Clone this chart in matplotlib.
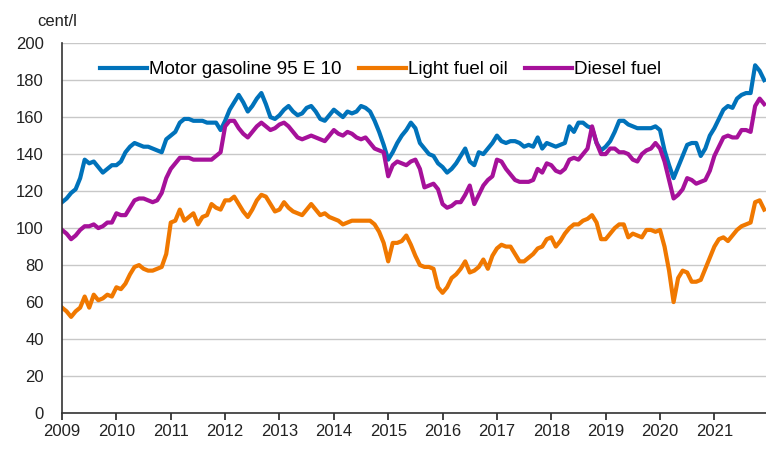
import matplotlib
matplotlib.use("Agg")
import matplotlib.pyplot as plt
import numpy as np

plt.rcParams['font.family'] = ['Liberation Sans', 'DejaVu Sans']

years = list(range(2009, 2022))

# monthly prices, cent/l, Jan 2009 - Dec 2021
gasoline = [
    114, 116, 119, 121, 127, 137, 135, 136, 133, 130, 132, 134,   # 2009
    134, 136, 141, 144, 146, 145, 144, 144, 143, 142, 141, 148,   # 2010
    150, 152, 157, 159, 159, 158, 158, 158, 157, 157, 157, 153,   # 2011
    158, 164, 168, 172, 168, 163, 166, 170, 173, 167, 160, 159,   # 2012
    161, 164, 166, 163, 161, 162, 165, 166, 163, 159, 158, 161,   # 2013
    164, 162, 160, 163, 162, 163, 166, 165, 163, 158, 152, 145,   # 2014
    137, 141, 146, 150, 153, 157, 154, 146, 143, 140, 139, 135,   # 2015
    133, 130, 132, 135, 139, 143, 136, 134, 141, 140, 143, 146,   # 2016
    150, 147, 146, 147, 147, 146, 144, 145, 144, 149, 143, 146,   # 2017
    145, 144, 145, 146, 155, 152, 157, 157, 155, 154, 146, 142,   # 2018
    144, 147, 152, 158, 158, 156, 155, 154, 154, 154, 154, 155,   # 2019
    153, 142, 134, 127, 133, 139, 145, 146, 146, 139, 143, 150,   # 2020
    154, 159, 164, 166, 165, 170, 172, 173, 173, 188, 185, 180,   # 2021
]
light_fuel_oil = [
    57, 55, 52, 55, 57, 63, 57, 64, 61, 62, 64, 63,
    68, 67, 70, 75, 79, 80, 78, 77, 77, 78, 79, 86,
    103, 104, 110, 104, 106, 108, 102, 106, 107, 113, 111, 110,
    115, 115, 117, 113, 109, 106, 110, 115, 118, 117, 113, 109,
    110, 114, 111, 109, 108, 107, 110, 113, 110, 107, 108, 106,
    105, 104, 102, 103, 104, 104, 104, 104, 104, 102, 98, 92,
    82, 92, 92, 93, 96, 91, 85, 80, 79, 79, 78, 68,
    65, 68, 73, 75, 78, 82, 76, 77, 79, 83, 78, 85,
    89, 91, 90, 90, 86, 82, 82, 84, 86, 89, 90, 94,
    95, 90, 93, 97, 100, 102, 102, 104, 105, 107, 103, 94,
    94, 97, 100, 102, 102, 95, 97, 96, 95, 99, 99, 98,
    99, 90, 77, 60, 73, 77, 76, 71, 71, 72, 78, 84,
    90, 94, 95, 93, 96, 99, 101, 102, 103, 114, 115, 110,
]
diesel = [
    99, 97, 94, 96, 99, 101, 101, 102, 100, 101, 103, 103,
    108, 107, 107, 111, 115, 116, 116, 115, 114, 115, 119, 127,
    132, 135, 138, 138, 138, 137, 137, 137, 137, 137, 139, 141,
    155, 158, 158, 154, 151, 149, 152, 155, 157, 155, 153, 154,
    156, 157, 155, 152, 149, 148, 149, 150, 149, 148, 147, 150,
    153, 151, 150, 152, 151, 149, 148, 149, 146, 143, 142, 141,
    128, 134, 136, 135, 134, 136, 137, 132, 122, 123, 124, 121,
    113, 111, 112, 114, 114, 118, 123, 113, 118, 123, 126, 128,
    137, 136, 132, 129, 126, 125, 125, 125, 126, 132, 130, 135,
    134, 131, 130, 132, 137, 138, 137, 140, 143, 155, 146, 140,
    140, 143, 143, 141, 141, 140, 137, 136, 140, 142, 143, 146,
    143, 136, 126, 116, 118, 121, 127, 126, 124, 125, 126, 131,
    139, 144, 149, 150, 149, 149, 153, 153, 152, 166, 170, 167,
]

months = np.arange(len(gasoline))

fig = plt.figure(figsize=(7.66, 4.49), dpi=100)
ax = fig.add_axes([0.081, 0.080, 0.919, 0.824])

lw = 3.0
ax.plot(months, gasoline, color='#0072BA', lw=lw, label='Motor gasoline 95 E 10')
ax.plot(months, light_fuel_oil, color='#F07800', lw=lw, label='Light fuel oil')
ax.plot(months, diesel, color='#A6119A', lw=lw, label='Diesel fuel')

ax.set_xlim(0, 155.4)
ax.set_ylim(0, 200)
ax.set_yticks(range(0, 201, 20))
ax.set_xticks([12 * i for i in range(len(years))])
ax.set_xticklabels([str(y) for y in years])

ax.grid(axis='y', color='#C8C8C8', lw=1)
ax.set_axisbelow(True)
for s in ['top', 'right']:
    ax.spines[s].set_visible(False)
ax.spines['left'].set_color('#333333')
ax.spines['bottom'].set_color('#333333')
ax.spines['left'].set_linewidth(1.2)
ax.spines['bottom'].set_linewidth(1.2)
ax.tick_params(axis='y', length=0, pad=13, labelsize=12, colors='#222222')
ax.tick_params(axis='x', length=5, width=1.2, direction='out', pad=3,
               labelsize=12, colors='#222222')

fig.text(0.048, 0.942, 'cent/l', fontsize=12, color='#222222')

ax.legend(loc='upper left', bbox_to_anchor=(0.043, 0.972), ncol=3, frameon=False,
          fontsize=13.5, handlelength=2.5, handletextpad=0.1, columnspacing=0.95,
          borderaxespad=0)

fig.savefig('out.png', dpi=100)
